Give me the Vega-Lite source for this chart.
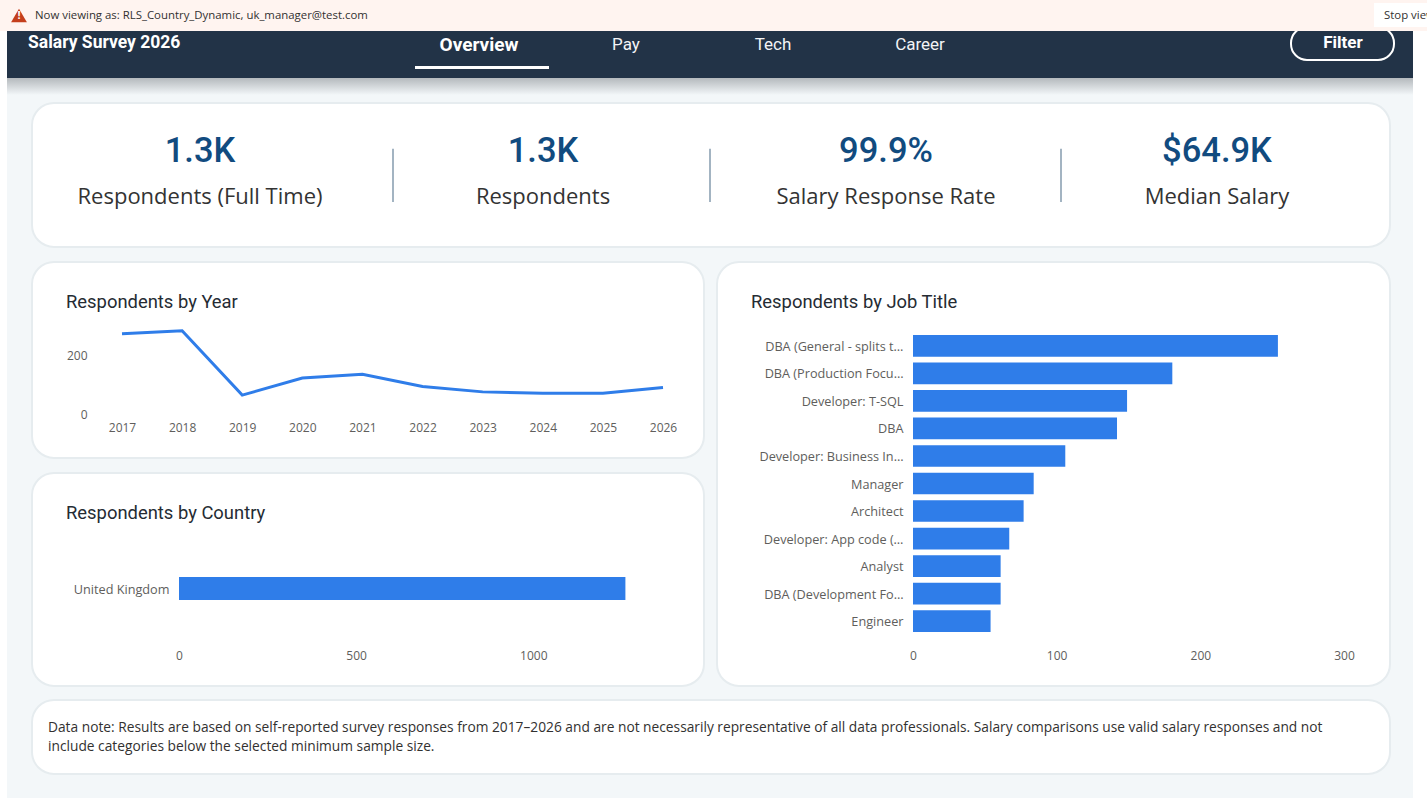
{"$schema":"https://vega.github.io/schema/vega-lite/v6.json","padding":0,"background":"#f3f7f9","spacing":0,
"config":{"view":{"stroke":null},"font":"Open Sans","axis":{"domain":false,"ticks":false,"grid":false,"title":null,"labelFont":"Open Sans","labelFontSize":12,"labelColor":"#605e5c","labelPadding":0,"labelFlush":false,"labelOverlap":false,"labelBound":false,"labelAngle":0},"title":{"font":"Roboto","fontSize":18.4,"fontWeight":400,"color":"#252b33","anchor":"start","frame":"group","offset":0}},
"vconcat":[
{"width":1427,"height":31,"view":{"fill":"#fff4f0"},"data":{"values":[{"x":2,"y":2,"t":"Now viewing as: RLS_Country_Dynamic, uk_manager@test.com"},{"x":4,"y":2,"t":"Stop viewing"}]},
"layer":[
{"data":{"values":[{"x":3,"x2":5,"y":1,"y2":3}]},"mark":{"type":"rect","fill":"#ffffff","clip":true},"encoding":{"x":{"field":"x","type":"quantitative","axis":null,"scale":{"domain":[1,2,3,4,5],"range":[19,35,1374,1384,1432]}},"x2":{"field":"x2"},"y":{"field":"y","type":"quantitative","axis":null,"scale":{"domain":[1,2,3],"range":[3,15.5,27]}},"y2":{"field":"y2"}}},
{"data":{"values":[{"x":1,"y":2}]},"mark":{"type":"point","shape":"triangle-up","filled":true,"fill":"#c43e1c","size":250,"opacity":1},"encoding":{"x":{"field":"x","type":"quantitative"},"y":{"field":"y","type":"quantitative"}}},
{"data":{"values":[{"x":1,"y":2,"t":"!"}]},"mark":{"type":"text","color":"#ffffff","fontSize":11,"fontWeight":"bold"},"encoding":{"x":{"field":"x","type":"quantitative"},"y":{"field":"y","type":"quantitative"},"text":{"field":"t"}}},
{"mark":{"type":"text","align":"left","color":"#323130","fontSize":11.4,"clip":true},"encoding":{"x":{"field":"x","type":"quantitative"},"y":{"field":"y","type":"quantitative"},"text":{"field":"t"}}}
]},
{"spacing":0,"hconcat":[
{"width":7,"height":767,"view":{"fill":"#ffffff"},"data":{"values":[]},"mark":"rect"},
{"spacing":0,"vconcat":[
{"width":1406,"height":47,"view":{"fill":"#223347"},
"layer":[
{"data":{"values":[{"a":1.9,"b":2.1,"y":5,"y2":6}]},"mark":{"type":"rect","fill":"#ffffff"},"encoding":{"x":{"field":"a","type":"quantitative","axis":null,"scale":{"domain":[1,1.9,2,2.1,3,4,5,5.5,6,6.5],"range":[21,408,472,542,619,766,913,1284,1336,1387]}},"x2":{"field":"b"},"y":{"field":"y","type":"quantitative","axis":null,"scale":{"domain":[0,1,2,3,4,5,6],"range":[-4,12,12,14,29,35,38]}},"y2":{"field":"y2"}}},
{"data":{"values":[{"a":5.5,"b":6.5,"y":0,"y2":4}]},"mark":{"type":"rect","fill":null,"stroke":"#ffffff","strokeWidth":2,"cornerRadius":16,"clip":true},"encoding":{"x":{"field":"a","type":"quantitative"},"x2":{"field":"b"},"y":{"field":"y","type":"quantitative"},"y2":{"field":"y2"}}},
{"data":{"values":[{"a":1,"y":2,"t":"Salary Survey 2026"}]},"mark":{"type":"text","align":"left","color":"#ffffff","fontSize":17.5,"fontWeight":"bold","font":"Roboto"},"encoding":{"x":{"field":"a","type":"quantitative"},"y":{"field":"y","type":"quantitative"},"text":{"field":"t"}}},
{"data":{"values":[{"a":2,"y":3,"t":"Overview"}]},"mark":{"type":"text","color":"#ffffff","fontSize":19,"fontWeight":"bold","font":"Roboto"},"encoding":{"x":{"field":"a","type":"quantitative"},"y":{"field":"y","type":"quantitative"},"text":{"field":"t"}}},
{"data":{"values":[{"a":3,"y":3,"t":"Pay"},{"a":4,"y":3,"t":"Tech"},{"a":5,"y":3,"t":"Career"}]},"mark":{"type":"text","color":"#f2f4f6","fontSize":17,"font":"Roboto"},"encoding":{"x":{"field":"a","type":"quantitative"},"y":{"field":"y","type":"quantitative"},"text":{"field":"t"}}},
{"data":{"values":[{"a":6,"y":1,"t":"Filter"}]},"mark":{"type":"text","color":"#ffffff","fontSize":17,"fontWeight":"bold","font":"Roboto"},"encoding":{"x":{"field":"a","type":"quantitative"},"y":{"field":"y","type":"quantitative"},"text":{"field":"t"}}}
]},
{"width":1406,"height":17,"view":{"fill":{"gradient":"linear","x1":0,"y1":0,"x2":0,"y2":1,"stops":[{"offset":0,"color":"#b4b9bd"},{"offset":1,"color":"#f3f7f9"}]}},"data":{"values":[]},"mark":"rect"},
{"width":1406,"height":7,"data":{"values":[]},"mark":"rect"},
{"spacing":0,"hconcat":[
{"width":24,"height":671,"data":{"values":[]},"mark":"rect"},
{"spacing":12,"vconcat":[
{"spacing":13,"vconcat":[
{"width":1358,"height":144,"view":{"fill":"#ffffff","stroke":"#e6ecef","strokeWidth":2,"cornerRadius":22},
"layer":[
{"data":{"values":[{"slot":1,"row":1,"t":"1.3K"},{"slot":2,"row":1,"t":"1.3K"},{"slot":3,"row":1,"t":"99.9%"},{"slot":4,"row":1,"t":"$64.9K"}]},"mark":{"type":"text","font":"Roboto","fontWeight":500,"fontSize":34.5,"color":"#114b7f"},"encoding":{"x":{"field":"slot","type":"quantitative","axis":null,"scale":{"domain":[1,1.5,2,2.5,3,3.5,4],"range":[168,361,511,678,854,1029,1185]}},"y":{"field":"row","type":"quantitative","axis":null,"scale":{"domain":[1,2],"range":[49,94]}},"text":{"field":"t"}}},
{"data":{"values":[{"slot":1,"row":2,"t":"Respondents (Full Time)"},{"slot":2,"row":2,"t":"Respondents"},{"slot":3,"row":2,"t":"Salary Response Rate"},{"slot":4,"row":2,"t":"Median Salary"}]},"mark":{"type":"text","fontSize":22,"color":"#333333"},"encoding":{"x":{"field":"slot","type":"quantitative"},"y":{"field":"row","type":"quantitative"},"text":{"field":"t"}}},
{"data":{"values":[{"slot":1.5,"a":0.93,"b":2.11},{"slot":2.5,"a":0.93,"b":2.11},{"slot":3.5,"a":0.93,"b":2.11}]},"mark":{"type":"rule","color":"#a3b4c2","strokeWidth":2},"encoding":{"x":{"field":"slot","type":"quantitative"},"y":{"field":"a","type":"quantitative"},"y2":{"field":"b"}}}
]},
{"spacing":11,"hconcat":[
{"spacing":13,"vconcat":[
{"width":672,"height":196,"view":{"fill":"#ffffff","stroke":"#e6ecef","strokeWidth":2,"cornerRadius":22},
"title":{"text":"Respondents by Year","dx":34,"dy":53},
"data":{"values":[{"year":"2017","n":272},{"year":"2018","n":282},{"year":"2019","n":64},{"year":"2020","n":122},{"year":"2021","n":135},{"year":"2022","n":93},{"year":"2023","n":75},{"year":"2024","n":70},{"year":"2025","n":70},{"year":"2026","n":90}]},
"mark":{"type":"line","color":"#2f7de9","strokeWidth":3},
"encoding":{"x":{"field":"year","type":"ordinal","sort":null,"scale":{"range":[90,631],"padding":0},"axis":{"offset":-36}},"y":{"field":"n","type":"quantitative","scale":{"domain":[0,400],"range":[152,34]},"axis":{"values":[0,200],"offset":-55}}}},
{"width":672,"height":213,"view":{"fill":"#ffffff","stroke":"#e6ecef","strokeWidth":2,"cornerRadius":22},
"title":{"text":"Respondents by Country","dx":34,"dy":53},
"data":{"values":[{"country":"United Kingdom","n":1260}]},
"mark":{"type":"bar","color":"#2f7de9"},
"encoding":{"x":{"field":"n","type":"quantitative","scale":{"domain":[0,1400],"range":[147,643]},"axis":{"values":[0,500,1000],"format":"d","offset":-36}},"y":{"field":"country","type":"nominal","scale":{"range":[104,127],"paddingInner":0,"paddingOuter":0},"axis":{"offset":-137,"labelFontSize":12.7,"labelOffset":1}}}}
]},
{"width":673,"height":424,"view":{"fill":"#ffffff","stroke":"#e6ecef","strokeWidth":2,"cornerRadius":22},
"title":{"text":"Respondents by Job Title","dx":34,"dy":53},
"data":{"values":[{"job":"DBA (General - splits t…","n":254},{"job":"DBA (Production Focu…","n":180.5},{"job":"Developer: T-SQL","n":149},{"job":"DBA","n":142},{"job":"Developer: Business In…","n":106},{"job":"Manager","n":84},{"job":"Architect","n":77},{"job":"Developer: App code (…","n":67},{"job":"Analyst","n":61},{"job":"DBA (Development Fo…","n":61},{"job":"Engineer","n":54}]},
"mark":{"type":"bar","color":"#2f7de9"},
"encoding":{"x":{"field":"n","type":"quantitative","scale":{"domain":[0,300],"range":[196,627]},"axis":{"values":[0,100,200,300],"offset":-36}},"y":{"field":"job","type":"nominal","sort":null,"scale":{"range":[73,370],"paddingInner":0.213,"paddingOuter":0},"axis":{"offset":-186,"labelFontSize":12.7,"labelOffset":1}}}}
]}
]},
{"width":1358,"height":74,"view":{"fill":"#ffffff","stroke":"#e6ecef","strokeWidth":2,"cornerRadius":22},
"data":{"values":[{"c":0,"line":1,"t":"Data note: Results are based on self-reported survey responses from 2017–2026 and are not necessarily representative of all data professionals. Salary comparisons use valid salary responses and not"},{"c":0,"line":2,"t":"include categories below the selected minimum sample size."}]},
"mark":{"type":"text","align":"left","fontSize":13.76,"color":"#323130"},
"encoding":{"x":{"field":"c","type":"quantitative","axis":null,"scale":{"domain":[0,1],"range":[16,1340]}},"y":{"field":"line","type":"quantitative","axis":null,"scale":{"domain":[1,2],"range":[28,47]}},"text":{"field":"t"}}}
]}
]}
]},
{"width":14,"height":767,"view":{"fill":"#ffffff"},"data":{"values":[]},"mark":"rect"}
]},
{"width":1427,"height":10,"view":{"fill":"#ffffff"},"data":{"values":[]},"mark":"rect"}
]}
